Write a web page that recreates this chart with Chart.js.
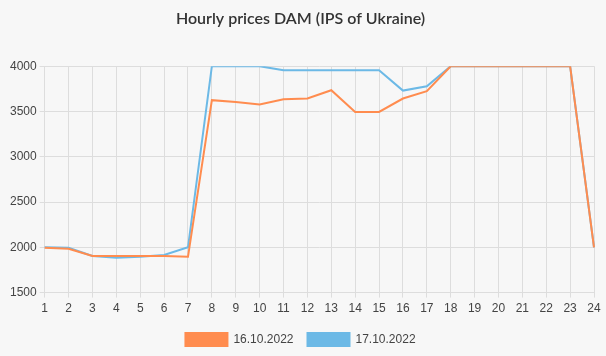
<!DOCTYPE html>
<html>
<head>
<meta charset="utf-8">
<script src="https://cdn.jsdelivr.net/npm/chart.js@4"></script>
<style>
html,body{margin:0;padding:0;background:#f7f7f7;}
#wrap{position:relative;width:606px;height:356px;}
</style>
</head>
<body>
<div id="wrap"><canvas id="c" width="606" height="356"></canvas></div>
<script>
const hours = ["1","2","3","4","5","6","7","8","9","10","11","12","13","14","15","16","17","18","19","20","21","22","23","24"];
const prices16 = [1995,1985,1905,1905,1905,1905,1895,3625,3605,3578,3635,3643,3735,3495,3495,3643,3724,4000,4000,4000,4000,4000,4000,2000];
const prices17 = [2000,1995,1905,1885,1895,1915,2000,4000,4000,4000,3956,3956,3956,3956,3956,3731,3779,4000,4000,4000,4000,4000,4000,2000];
const seriesNames = ["16.10.2022","17.10.2022"];
const yTicks = [1500,2000,2500,3000,3500,4000];

Chart.defaults.font.family = "'Liberation Sans', Arial, sans-serif";

const bgPlugin = {
  id:'bg',
  beforeDraw(chart){
    const ctx = chart.ctx;
    ctx.save();
    ctx.fillStyle = '#f7f7f7';
    ctx.fillRect(0,0,chart.width,chart.height);
    ctx.restore();
  }
};

new Chart(document.getElementById('c'), {
  type:'line',
  data:{
    labels:hours,
    datasets:[
      {label:seriesNames[0], data:prices16, borderColor:'#ff8c4f', backgroundColor:'#ff8c4f', borderWidth:2, pointRadius:0, tension:0, fill:false},
      {label:seriesNames[1], data:prices17, borderColor:'#6cb9e6', backgroundColor:'#6cb9e6', borderWidth:2, pointRadius:0, tension:0, fill:false}
    ]
  },
  options:{
    responsive:false,
    animation:false,
    layout:{padding:{left:7,right:12,top:0,bottom:0}},
    plugins:{
      title:{display:true, text:'Hourly prices DAM (IPS of Ukraine)', color:'#333', font:{family:'Lato', size:16, weight:'600'}, padding:{top:9,bottom:38}},
      legend:{position:'bottom', labels:{boxWidth:42, boxHeight:13, color:'#444', font:{size:12}, padding:14}},
      tooltip:{enabled:false}
    },
    scales:{
      x:{
        offset:false,
        grid:{color:'#dddddd', tickLength:5},
        border:{color:'#dddddd'},
        ticks:{color:'#444', font:{size:12}, maxRotation:0, autoSkip:false, padding:3.5}
      },
      y:{
        min:1500, max:4000,
        afterBuildTicks(axis){ axis.ticks = yTicks.map(v=>({value:v})); },
        grid:{color:'#dddddd', tickLength:5},
        border:{color:'#dddddd'},
        ticks:{color:'#444', font:{size:12}, padding:3, callback:(v)=>String(v)}
      }
    }
  },
  plugins:[bgPlugin]
});
</script>
</body>
</html>
